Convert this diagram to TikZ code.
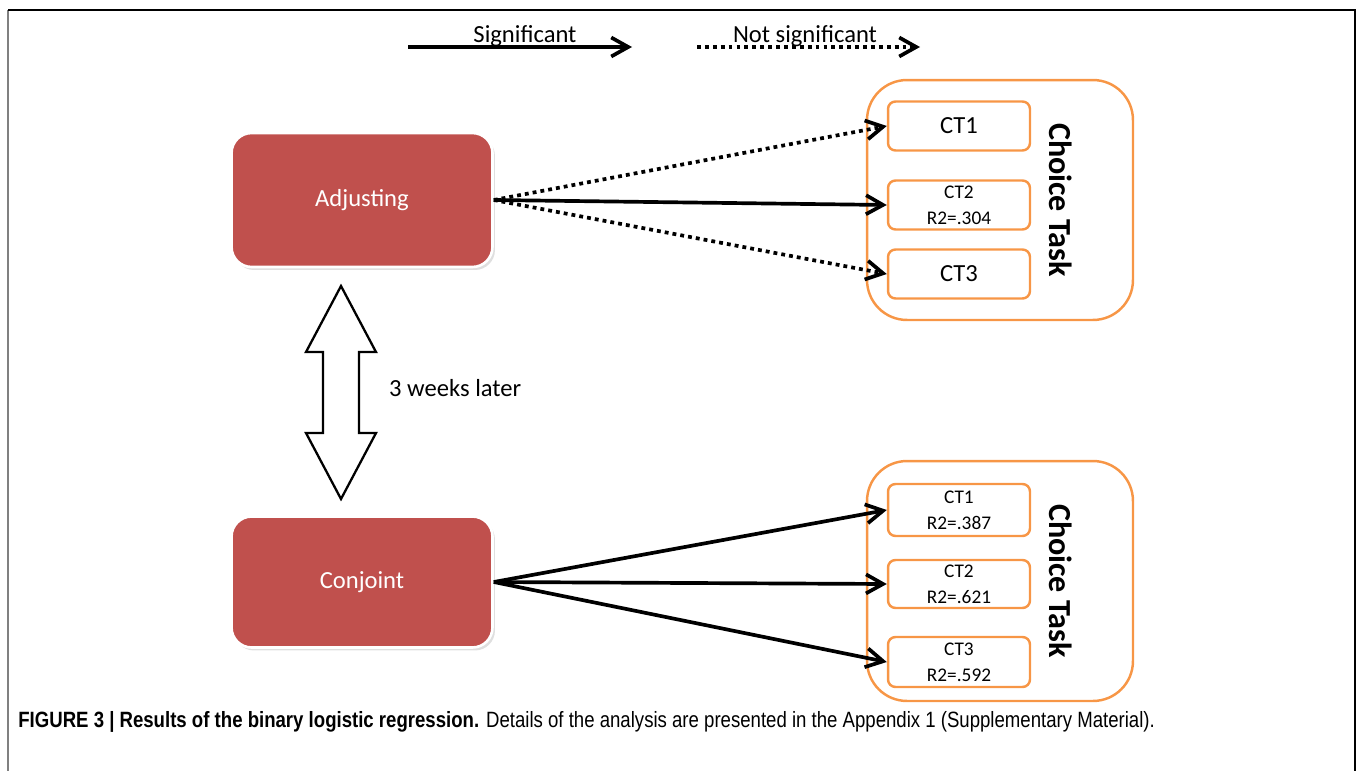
\documentclass[tikz,border=0pt]{standalone}
\usepackage{fontspec}
\setmainfont{Carlito}
\newfontfamily\capfont[FakeStretch=0.84]{Liberation Sans}
\usepackage{tikz}
\usetikzlibrary{arrows.meta, positioning, shadows, calc}
\definecolor{taskred}{HTML}{C0504D}
\definecolor{taskorange}{HTML}{F79646}

\begin{document}
\begin{tikzpicture}[x=0.02cm, y=-0.02cm,
    font=\fontsize{14}{16}\selectfont,
    method/.style={draw=white, line width=1.5pt, rounded corners=4mm, fill=taskred, text=white,
        minimum width=5.22cm, minimum height=2.68cm, drop shadow={opacity=0.25, shadow xshift=0.5mm, shadow yshift=-0.6mm}},
    group/.style={draw=taskorange, line width=1.4pt, rounded corners=8mm, minimum width=5.32cm, minimum height=4.8cm},
    ct/.style={draw=taskorange, line width=1.4pt, rounded corners=1.5mm, minimum width=2.84cm, minimum height=0.98cm,
        align=center, inner sep=1pt},
    sig/.style={-{Straight Barb[length=3.4mm, width=3.8mm]}, line width=2.1pt},
    nsig/.style={sig, dash pattern=on 2.2pt off 2.3pt},
    tasklbl/.style={font=\bfseries\fontsize{18.3}{20}\selectfont, rotate=-90}]
\useasboundingbox (0,0) rectangle (1357,771);
% frame of the figure
\draw[gray, line width=0.8pt] (8,771) -- (8,10);
\draw[line width=0.8pt] (8,10) -- (1355,10) -- (1355,771);

% legend
\coordinate (sigA) at (408,47);
\coordinate (sigB) at (632,47);
\coordinate (nsA) at (697,47);
\coordinate (nsB) at (920,47);
\node (siglbl) at (525,36) {Significant};
\node (nslbl) at (805,36) {Not significant};
\draw[sig] (sigA) -- (sigB);
\draw[nsig] (nsA) -- (nsB);

% methods
\node[method] (adjust) at (362,200) {Adjusting};
\node[method, minimum height=2.62cm] (conjoint) at (362,582) {Conjoint};

% the 3 weeks arrow
\coordinate (later) at (341,392);
\draw[line width=1.3pt, fill=white]
    ($(later)+(0,-106)$) -- ++(35,66) -- ++(-17,0) -- ++(0,81) -- ++(17,0) -- ++(-35,66)
    -- ++(-35,-66) -- ++(17,0) -- ++(0,-81) -- ++(-17,0) -- cycle;
\node[anchor=west] (laterlbl) at (383,388) {3 weeks later};

% choice tasks, first session
\node[group] (taskA) at (1000,200) {};
\node[ct] (a1) at (959,126) {CT1};
\node[ct] (a2) at (959,205) {\fontsize{11}{13}\selectfont CT2\\[-1pt]\fontsize{11}{13}\selectfont R2=.304};
\node[ct] (a3) at (959,274) {CT3};
\node[tasklbl] (taskAlbl) at (1061,200) {Choice Task};

% choice tasks, second session
\node[group] (taskB) at (1000,581) {};
\node[ct, minimum height=1.04cm] (b1) at (959,510) {\fontsize{11}{13}\selectfont CT1\\[-1pt]\fontsize{11}{13}\selectfont R2=.387};
\node[ct, minimum height=0.96cm] (b2) at (959,584) {\fontsize{11}{13}\selectfont CT2\\[-1pt]\fontsize{11}{13}\selectfont R2=.621};
\node[ct, minimum height=1.0cm] (b3) at (959,662) {\fontsize{11}{13}\selectfont CT3\\[-1pt]\fontsize{11}{13}\selectfont R2=.592};
\node[tasklbl] (taskBlbl) at (1061,581) {Choice Task};

\draw[nsig] (adjust.east) -- (a1.west);
\draw[sig] (adjust.east) -- (a2.west);
\draw[nsig] (adjust.east) -- (a3.west);
\draw[sig] (conjoint.east) -- (b1.west);
\draw[sig] (conjoint.east) -- (b2.west);
\draw[sig] (conjoint.east) -- (b3.west);

% caption
\node[anchor=west, inner sep=0pt, font=\capfont\fontsize{12.6}{14}\selectfont] (caption) at (18,722)
    {\textbf{FIGURE 3 | Results of the binary logistic regression.} Details of the analysis are presented in the Appendix 1 (Supplementary Material).};
\end{tikzpicture}
\end{document}
